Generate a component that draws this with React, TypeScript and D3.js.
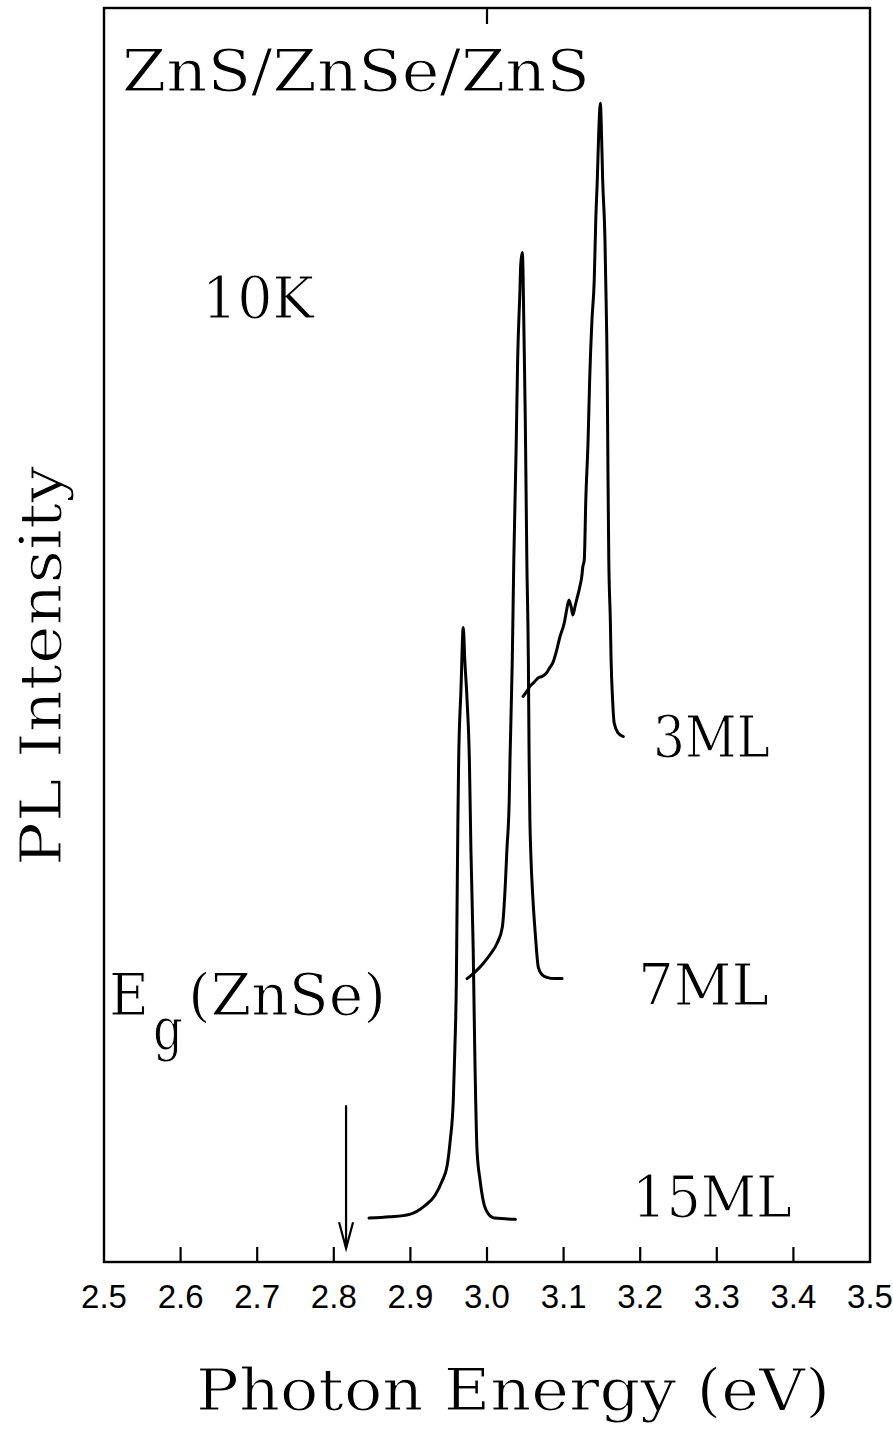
import React from "react";
import * as d3 from "d3";

// Photon energy axis (eV)
const energyTicks = [2.5, 2.6, 2.7, 2.8, 2.9, 3.0, 3.1, 3.2, 3.3, 3.4, 3.5];
const tickLabels = ["2.5", "2.6", "2.7", "2.8", "2.9", "3.0", "3.1", "3.2", "3.3", "3.4", "3.5"];

// 15 ML well: photon energy (eV) and PL intensity (arb. units, offset trace)
const energy15 = [2.846, 2.873, 2.899, 2.919, 2.932, 2.941, 2.948, 2.952, 2.956, 2.958, 2.96, 2.961, 2.962, 2.963, 2.966, 2.969, 2.971, 2.974, 2.977, 2.979, 2.982, 2.984, 2.987, 2.991, 2.995, 3.001, 3.01, 3.037];
const intensity15 = [0.035, 0.036, 0.038, 0.045, 0.053, 0.064, 0.077, 0.097, 0.129, 0.169, 0.225, 0.289, 0.352, 0.4, 0.456, 0.506, 0.48, 0.448, 0.4, 0.329, 0.249, 0.169, 0.089, 0.065, 0.049, 0.039, 0.035, 0.034];

// 7 ML well
const energy7 = [2.974, 2.984, 2.995, 3.005, 3.013, 3.02, 3.024, 3.026, 3.029, 3.03, 3.033, 3.035, 3.038, 3.04, 3.043, 3.044, 3.046, 3.047, 3.048, 3.05, 3.052, 3.054, 3.055, 3.056, 3.057, 3.06, 3.063, 3.067, 3.072, 3.078, 3.089, 3.098];
const intensity7 = [0.226, 0.231, 0.238, 0.246, 0.254, 0.267, 0.302, 0.329, 0.368, 0.4, 0.48, 0.56, 0.648, 0.719, 0.775, 0.795, 0.805, 0.791, 0.751, 0.671, 0.56, 0.48, 0.4, 0.352, 0.329, 0.289, 0.262, 0.235, 0.229, 0.227, 0.226, 0.226];

// 3 ML well (with the noisy low-energy shoulder)
const energy3 = [3.047, 3.052, 3.056, 3.061, 3.067, 3.072, 3.078, 3.082, 3.086, 3.091, 3.095, 3.101, 3.104, 3.107, 3.11, 3.112, 3.115, 3.117, 3.121, 3.124, 3.125, 3.127, 3.129, 3.132, 3.134, 3.137, 3.14, 3.142, 3.144, 3.146, 3.148, 3.149, 3.151, 3.154, 3.155, 3.157, 3.158, 3.159, 3.161, 3.162, 3.164, 3.166, 3.171, 3.178];
const intensity3 = [0.451, 0.455, 0.459, 0.462, 0.466, 0.467, 0.47, 0.474, 0.478, 0.488, 0.498, 0.51, 0.52, 0.528, 0.522, 0.516, 0.523, 0.528, 0.538, 0.548, 0.554, 0.56, 0.608, 0.656, 0.703, 0.751, 0.783, 0.831, 0.863, 0.903, 0.924, 0.911, 0.863, 0.815, 0.783, 0.703, 0.624, 0.56, 0.512, 0.48, 0.448, 0.43, 0.422, 0.419];

// ZnSe band gap marker
const gapEnergy = 2.816;
const gapArrowTop = 0.125;
const gapArrowTip = 0.011;

const W = 893;
const H = 1432;
const plot = { left: 104, right: 870, top: 8, bottom: 1262 };

const serif = "'DejaVu Serif', 'Liberation Serif', serif";
const sans = "'Liberation Sans', Arial, sans-serif";

export default function App() {
  const x = d3.scaleLinear().domain([2.5, 3.5]).range([plot.left, plot.right]);
  const y = d3.scaleLinear().domain([0, 1]).range([plot.bottom, plot.top]);

  const line = d3
    .line<[number, number]>()
    .x((d) => x(d[0]))
    .y((d) => y(d[1]))
    .curve(d3.curveMonotoneX);

  const traces = [
    { e: energy15, i: intensity15 },
    { e: energy7, i: intensity7 },
    { e: energy3, i: intensity3 },
  ];

  const ax = x(gapEnergy);
  const aTop = y(gapArrowTop);
  const aTip = y(gapArrowTip);

  const innerTicks = energyTicks.slice(1, -1);

  // thin white outline keeps the serif lettering light
  const thin = { stroke: "#fff", strokeWidth: 1.1 };

  return (
    <svg
      width={W}
      height={H}
      viewBox={`0 0 ${W} ${H}`}
      style={{ position: "absolute", left: 0, top: 0, background: "#fff" }}
    >
      <rect x={0} y={0} width={W} height={H} fill="#fff" />
      {/* frame */}
      <rect
        x={plot.left}
        y={plot.top}
        width={plot.right - plot.left}
        height={plot.bottom - plot.top}
        fill="none"
        stroke="#000"
        strokeWidth={2.4}
      />
      {/* bottom ticks */}
      {innerTicks.map((t) => (
        <line key={t} x1={x(t)} x2={x(t)} y1={plot.bottom} y2={plot.bottom - 15} stroke="#000" strokeWidth={2.2} />
      ))}
      {/* top tick */}
      <line x1={x(3.0)} x2={x(3.0)} y1={plot.top} y2={plot.top + 16} stroke="#000" strokeWidth={2.2} />
      {/* tick labels */}
      {energyTicks.map((t, k) => (
        <text key={t} x={x(t)} y={1308} textAnchor="middle" fontFamily={sans} fontSize={33} fill="#000">
          {tickLabels[k]}
        </text>
      ))}

      {/* spectra */}
      {traces.map((tr, k) => (
        <path
          key={k}
          d={line(tr.e.map((e, j) => [e, tr.i[j]] as [number, number])) || ""}
          fill="none"
          stroke="#000"
          strokeWidth={3}
          strokeLinejoin="round"
          strokeLinecap="round"
        />
      ))}

      {/* band-gap arrow */}
      <line x1={ax} x2={ax} y1={aTop} y2={aTip} stroke="#000" strokeWidth={2.2} />
      <path
        d={`M${ax - 7},${aTip - 26} L${ax},${aTip} L${ax + 7},${aTip - 26}`}
        fill="none"
        stroke="#000"
        strokeWidth={2.2}
      />

      {/* labels */}
      <g fontFamily={serif} fontSize={58} fill="#000" {...thin}>
        <text x={122} y={91} textLength={468} lengthAdjust="spacingAndGlyphs">ZnS/ZnSe/ZnS</text>
        <text x={202} y={318} textLength={112} lengthAdjust="spacingAndGlyphs">10K</text>
        <text x={653} y={757} textLength={117} lengthAdjust="spacingAndGlyphs">3ML</text>
        <text x={638} y={1005} textLength={131} lengthAdjust="spacingAndGlyphs">7ML</text>
        <text x={632} y={1217} textLength={160} lengthAdjust="spacingAndGlyphs">15ML</text>
        <text x={109} y={1015} textLength={40} lengthAdjust="spacingAndGlyphs">E</text>
        <text x={153} y={1049} textLength={30} lengthAdjust="spacingAndGlyphs">g</text>
        <text x={188} y={1015} textLength={198} lengthAdjust="spacingAndGlyphs">(ZnSe)</text>
        <text x={196} y={1410} textLength={634} lengthAdjust="spacingAndGlyphs">Photon Energy (eV)</text>
        <text
          transform="translate(61,666) rotate(-90)"
          textAnchor="middle"
          textLength={400}
          lengthAdjust="spacingAndGlyphs"
        >
          PL Intensity
        </text>
      </g>
    </svg>
  );
}
